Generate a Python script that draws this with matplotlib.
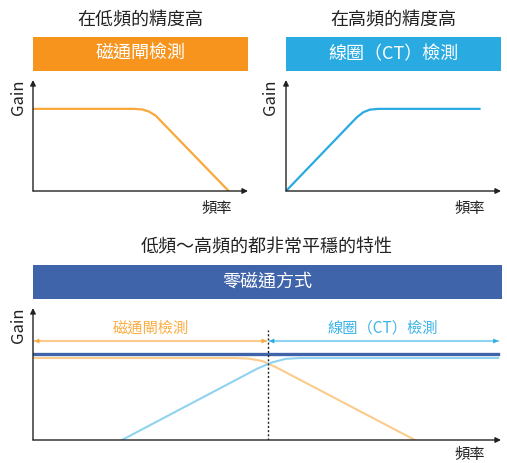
import matplotlib
matplotlib.use("Agg")
import matplotlib.pyplot as plt

plt.rcParams['font.family'] = ['Noto Sans CJK TC', 'DejaVu Sans']

#-----------------data (frequency 0-100, gain 0-100)----------------
low_freq = [0, 47, 51, 54, 57, 91]
low_gain = [74, 74, 73.4, 71.5, 68, 0]

high_freq = [0, 33, 36, 39, 43, 90]
high_gain = [0, 66.5, 71, 73.3, 74, 74]

zf_freq = [0, 99.4]
zf_gain = [65.2, 65.2]
fg_freq = [0, 43, 46, 49, 52, 81.6]
fg_gain = [62.1, 62.1, 61.7, 59.8, 55.0, 0]
ct_freq = [19, 48, 51, 54, 57, 99.4]
ct_gain = [0, 54.2, 58.7, 61.5, 62.1, 62.1]
split_freq = 50.2
range_gain = 75
range_end = 99.4

titles_top = ['在低頻的精度高', '在高頻的精度高']
boxes_top = ['磁通閘檢測', '線圈（CT）檢測']
title_bottom = '低頻～高頻的都非常平穩的特性'
box_bottom = '零磁通方式'
range_labels = ['磁通閘檢測', '線圈（CT）檢測']
#--------------------------------------------------------------------

ORANGE = '#F7941D'
ORANGE_LINE = '#F9A83A'
BLUE = '#29ABE2'
NAVY = '#4064A9'
LIGHT_OR = '#FBCB8C'
LIGHT_BL = '#8FD3F0'
TXT = '#222222'

W, H = 507, 463
fig = plt.figure(figsize=(W / 100, H / 100), dpi=100)


def px_axes(x0, y0, x1, y1):
    # pixel box (top-left origin) -> axes
    return fig.add_axes([x0 / W, 1 - y1 / H, (x1 - x0) / W, (y1 - y0) / H])


def box(x0, y0, x1, y1, color, label):
    ax = px_axes(x0, y0, x1, y1)
    ax.set_facecolor(color)
    ax.set_xticks([]); ax.set_yticks([])
    for s in ax.spines.values():
        s.set_visible(False)
    ax.text(0.5, 0.5, label, color='white', fontsize=13, ha='center', va='center',
            transform=ax.transAxes)


def plot_axes(x0, y0, x1, y1, gain_x, freq_x, freq_y):
    ax = px_axes(x0, y0, x1, y1)
    ax.set_xlim(0, 100); ax.set_ylim(0, 100)
    ax.axis('off')
    ap = dict(arrowstyle='-|>', color=TXT, lw=1, mutation_scale=8, shrinkA=0, shrinkB=0)
    ax.annotate('', xy=(1, 0), xytext=(0, 0), xycoords='axes fraction', arrowprops=ap)
    ax.annotate('', xy=(0, 1), xytext=(0, 0), xycoords='axes fraction', arrowprops=ap)
    fig.text(gain_x / W, 1 - (y0 + 17) / H, 'Gain', rotation=90, fontsize=12,
             color=TXT, ha='center', va='center')
    fig.text(freq_x / W, 1 - freq_y / H, '頻率', fontsize=11, color=TXT,
             ha='center', va='center')
    return ax


# top left
fig.text(140 / W, 1 - 20 / H, titles_top[0], fontsize=13, color=TXT, ha='center', va='center')
box(33, 37, 248, 71, ORANGE, boxes_top[0])
ax1 = plot_axes(33, 80, 248, 191, 19, 217, 208)
ax1.plot(low_freq, low_gain, color=ORANGE_LINE, lw=1.6, solid_joinstyle='round')

# top right
fig.text(393 / W, 1 - 20 / H, titles_top[1], fontsize=13, color=TXT, ha='center', va='center')
box(286, 37, 501, 71, BLUE, boxes_top[1])
ax2 = plot_axes(286, 80, 501, 191, 270, 470, 208)
ax2.plot(high_freq, high_gain, color=BLUE, lw=1.6, solid_joinstyle='round')

# bottom
fig.text(267 / W, 1 - 247 / H, title_bottom, fontsize=13, color=TXT, ha='center', va='center')
box(33, 265, 502, 299, NAVY, box_bottom)
ax3 = plot_axes(33, 308, 501, 440, 18, 470, 455)
ax3.plot(fg_freq, fg_gain, color=LIGHT_OR, lw=1.5)
ax3.plot(ct_freq, ct_gain, color=LIGHT_BL, lw=1.5)
ax3.plot(zf_freq, zf_gain, color=NAVY, lw=2.4)
ax3.vlines(split_freq, 0, 83, colors=TXT, linestyles=(0, (1.5, 1.5)), lw=1)

ax3.plot([0.5, split_freq - 0.5], [range_gain, range_gain], color=LIGHT_OR, lw=1.5)
ax3.plot([split_freq + 0.5, range_end], [range_gain, range_gain], color=LIGHT_BL, lw=1.5)
hp = dict(lw=0, mutation_scale=9, shrinkA=0, shrinkB=0)
for tip, tail, c in [(0.3, 3, '#F9A83A'), (split_freq - 0.3, split_freq - 3, '#F9A83A'),
                     (split_freq + 0.3, split_freq + 3, BLUE), (range_end, range_end - 2.7, BLUE)]:
    ax3.annotate('', xy=(tip, range_gain), xytext=(tail, range_gain),
                 arrowprops=dict(arrowstyle='-|>', color=c, **hp))

ax3.text(split_freq / 2, 84.8, range_labels[0], color='#F9AE45', fontsize=11,
         ha='center', va='center')
ax3.text((split_freq + range_end) / 2, 84.8, range_labels[1], color='#3DB4E6', fontsize=11,
         ha='center', va='center')

fig.savefig('out.png', dpi=100)
